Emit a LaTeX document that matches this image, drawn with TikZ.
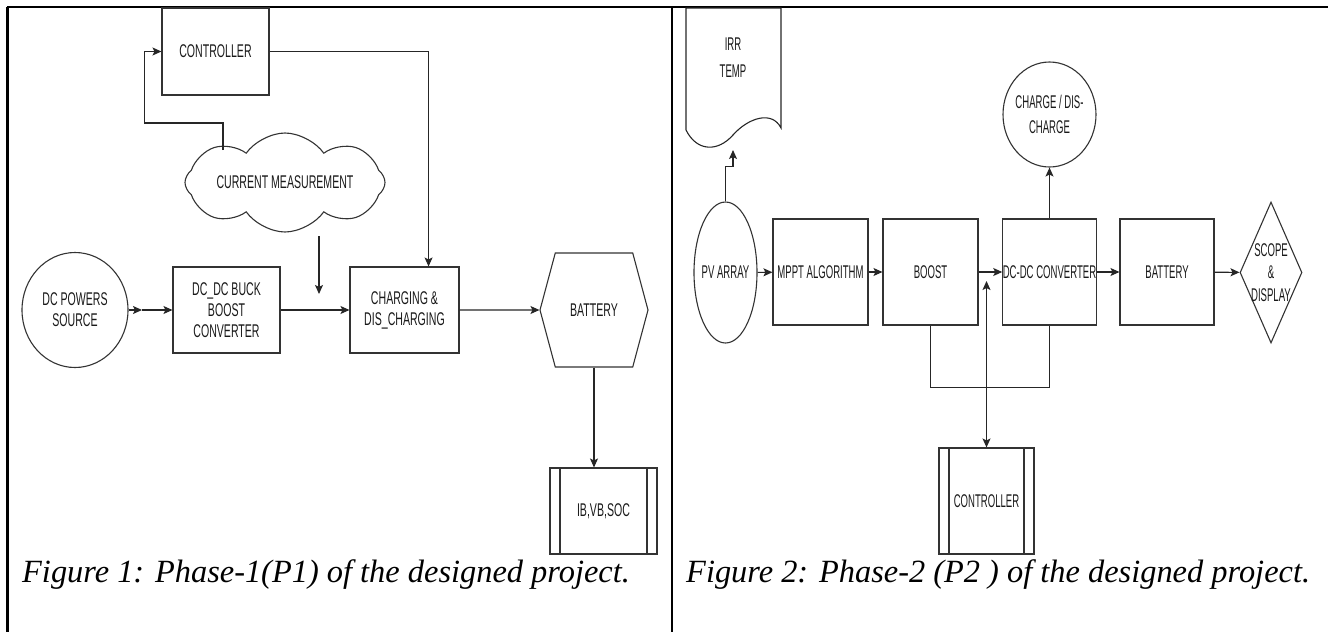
\documentclass[tikz,border=0pt]{standalone}
\usepackage{fontspec}
\setmainfont{Liberation Serif}
\newfontfamily\blockfont[FakeStretch=0.575]{Liberation Sans}
\newfontfamily\blockfontn[FakeStretch=0.52]{Liberation Sans}
\usetikzlibrary{arrows.meta,shapes.geometric,shapes.symbols,calc}

\tikzset{
    txt/.style={align=center, inner sep=0pt, text=black!90,
        font=\blockfont\fontsize{18.4}{21}\selectfont},
    txtn/.style={txt, font=\blockfontn\fontsize{18.4}{24}\selectfont},
    box/.style={txt, draw=black!80, line width=1.1pt},
    boxn/.style={txtn, draw=black!80, line width=1.1pt},
    bars/.style={path picture={
        \draw[black!80, line width=1.1pt]
            ([xshift=10pt]path picture bounding box.north west) -- ([xshift=10pt]path picture bounding box.south west)
            ([xshift=-10pt]path picture bounding box.north east) -- ([xshift=-10pt]path picture bounding box.south east);}},
    wire/.style={draw=black!85, line width=1.1pt},
    link/.style={wire, -{Stealth[length=9pt, width=8pt, inset=2pt]}},
    dlink/.style={wire, {Stealth[length=9pt, width=8pt, inset=2pt]}-{Stealth[length=9pt, width=8pt, inset=2pt]}},
    caption/.style={inner sep=0pt, anchor=base west, font=\itshape\fontsize{32.4}{38}\selectfont},
    rule/.style={line width=2.5pt}
}

\begin{document}
\begin{tikzpicture}[x=1pt, y=-1pt]
    \useasboundingbox (0,0) rectangle (1328,632);
    % table frame
    \draw[line width=1.5pt] (7,7) -- (1328,7);
    \draw[rule] (7.5,6.5) -- (7.5,632);
    \draw[rule] (672,6.5) -- (672,632);

    % Phase 1
    \node[box, minimum width=107, minimum height=87] (ctrl) at (215.5,51.5) {CONTROLLER};
    \node[box, cloud, cloud puffs=8, cloud puff arc=110, cloud ignores aspect, minimum width=200, minimum height=99,
        label={[txt]center:CURRENT MEASUREMENT}] (meas) at (285,182.5) {};
    \node[box, ellipse, minimum width=106, minimum height=115] (src) at (75,310) {DC POWERS\\SOURCE};
    \node[box, minimum width=107, minimum height=86] (buck) at (226.5,310) {DC\_DC BUCK\\BOOST\\CONVERTER};
    \node[box, minimum width=109, minimum height=86] (chg) at (404.5,310) {CHARGING \&\\DIS\_CHARGING};
    \node[box, signal, signal to=west and east, signal pointer angle=150,
        minimum width=108, minimum height=114] (batt) at (594,310) {BATTERY};
    \node[box, bars, minimum width=107, minimum height=86] (meter) at (603.5,511) {IB,VB,SOC};

    \coordinate (srcmid) at (142,310);
    \draw[link] (src) -- (srcmid);
    \draw[link] (srcmid) -- (buck.west);
    \draw[link] (buck) -- (chg);
    \draw[link] (chg) -- (batt);
    \draw[link] (batt.south) -- (batt.south |- meter.north);
    \draw[link] (ctrl.east) -| ($(chg.north east)+(-31,0)$);
    \coordinate (measout) at (319,236);
    \coordinate (measin) at (319,294);
    \draw[link] (measout) -- (measin);
    % measurement fed back to the controller
    \coordinate (fb) at (223,150);
    \draw[link] (fb) -- ++(0,-27) -| ($(ctrl.west)+(-17,0)$) -- (ctrl.west);

    % Phase 2
    \draw[wire] (686,8) -- (686,130) .. controls (697,152) and (718,152) .. (733,135)
        .. controls (748,118) and (772,110) .. (781,128) -- (781,8) -- cycle;
    \node[txtn, font=\blockfontn\fontsize{18.4}{27}\selectfont] (irr) at (733,58) {IRR\\TEMP};
    \coordinate (irrin) at (733,150);
    \node[boxn, ellipse, minimum width=63, minimum height=141,
        label={[txtn]center:PV ARRAY}] (pv) at (725.5,272.5) {};
    \node[boxn, minimum width=95, minimum height=106] (mppt) at (820.5,272) {MPPT ALGORITHM};
    \node[boxn, minimum width=95, minimum height=106] (boost) at (930.5,272) {BOOST};
    \node[boxn, minimum width=93, minimum height=106] (dcdc) at (1049.5,272) {DC-DC CONVERTER};
    \node[boxn, minimum width=94, minimum height=106] (batt2) at (1167,272) {BATTERY};
    \node[boxn, diamond, minimum width=62, minimum height=141,
        label={[txtn, font=\blockfontn\fontsize{18.4}{22.5}\selectfont]center:SCOPE\\\&\\DISPLAY}] (scope) at (1271,272.5) {};
    \node[boxn, ellipse, minimum width=93, minimum height=105,
        label={[txtn, font=\blockfontn\fontsize{18.4}{25}\selectfont]center:CHARGE / DIS-\\CHARGE}] (mode) at (1049.5,114.5) {};
    \node[boxn, bars, minimum width=95, minimum height=106] (ctrl2) at (986.5,501) {CONTROLLER};

    \draw[link] (pv.north) -- ++(0,-35) -| (irrin);
    \draw[link] (pv) -- (mppt);
    \draw[link] (mppt) -- (boost);
    \draw[link] (boost) -- (dcdc);
    \draw[link] (dcdc) -- (batt2);
    \draw[link] (batt2) -- (scope);
    \draw[link] (dcdc) -- (mode);
    \draw[wire] (boost.south) -- ++(0,62) -| (dcdc.south);
    \coordinate (busin) at (986.5,281);
    \draw[dlink] (busin) -- (ctrl2.north);

    \node[caption] (cap1) at (22,582) {Figure 1: Phase-1(P1) of the designed project.};
    \node[caption] (cap2) at (686,582) {Figure 2: Phase-2 (P2 ) of the designed project.};
\end{tikzpicture}
\end{document}
